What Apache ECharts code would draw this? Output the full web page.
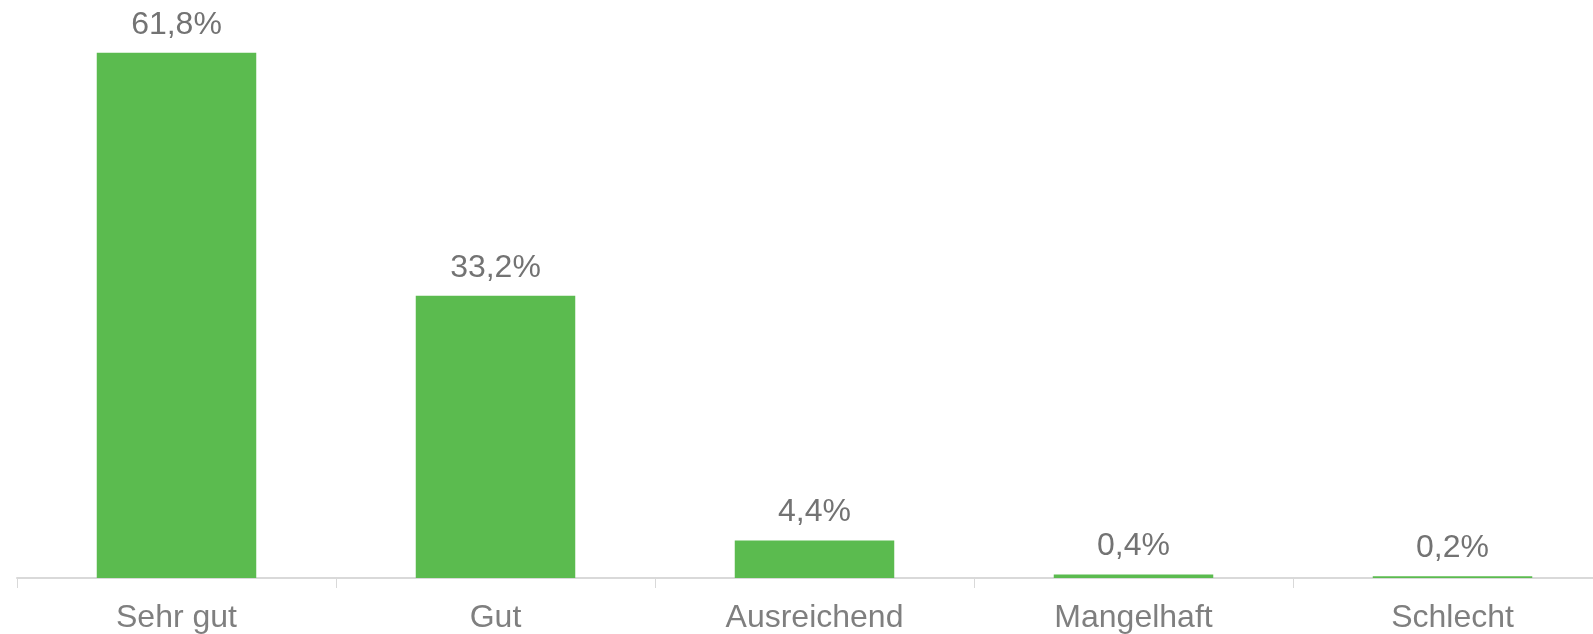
<!DOCTYPE html>
<html>
<head>
<meta charset="utf-8">
<script src="https://cdn.jsdelivr.net/npm/echarts@6/dist/echarts.min.js"></script>
<style>
  html, body { margin: 0; padding: 0; background: #ffffff; }
  #chart { width: 1593px; height: 634px; }
</style>
</head>
<body>
<div id="chart"></div>
<script>
// Ratings distribution (percent)
const categories = ['Sehr gut', 'Gut', 'Ausreichend', 'Mangelhaft', 'Schlecht'];
const shares = [61.8, 33.2, 4.4, 0.4, 0.2];

const chart = echarts.init(document.getElementById('chart'));

chart.setOption({
    animation: false,
    backgroundColor: '#ffffff',
    grid: {
        left: 17,
        width: 1595,
        top: -17,
        bottom: 56,
        outerBoundsMode: 'none',
        containLabel: false
    },
    xAxis: {
        type: 'category',
        data: categories,
        axisLine: { lineStyle: { color: '#d9d9d9', width: 2 } },
        axisTick: { show: true, length: 10, lineStyle: { color: '#d9d9d9', width: 1 } },
        axisLabel: {
            color: '#7f7f7f',
            fontFamily: 'Liberation Sans, Arial, sans-serif',
            fontSize: 32,
            margin: 24
        }
    },
    yAxis: {
        type: 'value',
        min: 0,
        max: 70,
        show: false,
        splitLine: { show: false }
    },
    series: [{
        type: 'bar',
        data: shares,
        barWidth: '50%',
        itemStyle: { color: '#5bbb4f' },
        label: {
            show: true,
            position: 'top',
            distance: 12,
            color: '#737373',
            fontFamily: 'Liberation Sans, Arial, sans-serif',
            fontSize: 32,
            formatter: p => p.value.toFixed(1).replace('.', ',') + '%'
        }
    }]
});
</script>
</body>
</html>
